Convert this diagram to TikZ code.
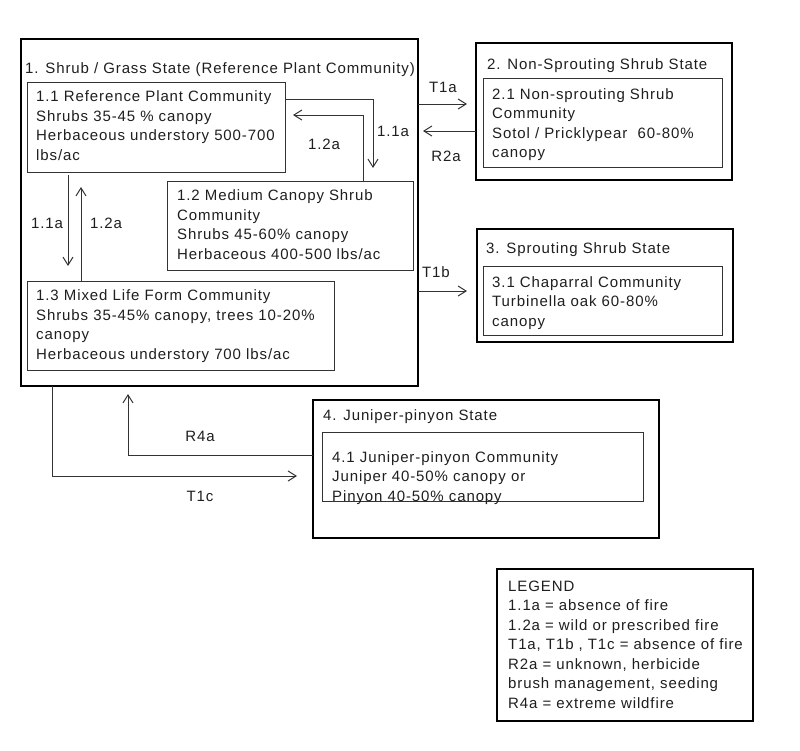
\documentclass[tikz,border=0pt]{standalone}
\usepackage{fontspec}
\setmainfont{Liberation Sans}[LetterSpace=6]
\usetikzlibrary{arrows.meta,calc}
\begin{document}
\begin{tikzpicture}[x=1pt,y=-1pt,
  statebox/.style={draw=black, line width=2pt, anchor=north west, inner sep=0pt, outer sep=0pt},
  commbox/.style={draw=black!80, line width=1pt, anchor=north west, inner sep=0pt, outer sep=0pt},
  txt/.style={anchor=north west, align=left, inner sep=0pt, font=\fontsize{15}{19.5}\selectfont, text=black!88},
  lbl/.style={anchor=base, inner sep=0pt, font=\fontsize{15}{19.5}\selectfont, text=black!88},
  conn/.style={draw=black!80, line width=1pt, -{Straight Barb[length=8pt,width=10pt]}}
]
\useasboundingbox[fill=white] (0,0) rectangle (800,750);

% state boxes
\node[statebox, minimum width=397pt, minimum height=347pt] (s1) at (21,39) {};
\node[commbox, minimum width=258pt, minimum height=90pt] (b11) at (27,82) {};
\node[commbox, minimum width=246pt, minimum height=89pt] (b12) at (167,181) {};
\node[commbox, minimum width=307pt, minimum height=89pt] (b13) at (27,281) {};

\node[statebox, minimum width=256pt, minimum height=137pt] (s2) at (476,43) {};
\node[commbox, minimum width=239pt, minimum height=89pt] (b21) at (483,78) {};

\node[statebox, minimum width=256pt, minimum height=113pt] (s3) at (477,229) {};
\node[commbox, minimum width=239pt, minimum height=69pt] (b31) at (483,266) {};

\node[statebox, minimum width=346pt, minimum height=138pt] (s4) at (313,400) {};
\node[commbox, minimum width=321pt, minimum height=69pt] (b41) at (322,432) {};

\node[statebox, minimum width=256pt, minimum height=152pt] (leg) at (497,569) {};

% texts
\node[txt] (t1) at (25,62.1) {1. Shrub / Grass State (Reference Plant Community)};
\node[txt] (t11) at (36,90.8) {1.1 Reference Plant Community\\Shrubs 35-45 \% canopy\\Herbaceous understory 500-700\\lbs/ac};
\node[txt] (t12) at (177,189.8) {1.2 Medium Canopy Shrub\\Community\\Shrubs 45-60\% canopy\\Herbaceous 400-500 lbs/ac};
\node[txt] (t13) at (36,289.8) {1.3 Mixed Life Form Community\\Shrubs 35-45\% canopy, trees 10-20\%\\canopy\\Herbaceous understory 700 lbs/ac};
\node[txt] (t2) at (487,58.1) {2. Non-Sprouting Shrub State};
\node[txt] (t21) at (492,88.1) {2.1 Non-sprouting Shrub\\Community\\Sotol / Pricklypear\ \ 60-80\%\\canopy};
\node[txt] (t3) at (486,242.1) {3. Sprouting Shrub State};
\node[txt] (t31) at (492,276.1) {3.1 Chaparral Community\\Turbinella oak 60-80\%\\canopy};
\node[txt] (t4) at (323,409.1) {4. Juniper-pinyon State};
\node[txt] (t41) at (332,451.1) {4.1 Juniper-pinyon Community\\Juniper 40-50\% canopy or\\Pinyon 40-50\% canopy};
\node[txt] (tleg) at (508,580.6) {LEGEND\\1.1a = absence of fire\\1.2a = wild or prescribed fire\\T1a, T1b\ , T1c = absence of fire\\R2a = unknown, herbicide\\brush management, seeding\\R4a = extreme wildfire};

% connector end points
\coordinate (c11a) at (373,168);
\coordinate (c12a) at (293,115);
\coordinate (cT1a) at (467,104);
\coordinate (cR2a) at (423,131);
\coordinate (cT1b) at (467,291);
\coordinate (cR4a) at (128,394);
\coordinate (cT1c) at (297,476);

% connectors
\draw[conn] ([yshift=-17pt]b11.north east) -| (c11a);
\draw[conn] ([xshift=196pt]b12.north west) |- (c12a);
\draw[conn] ([shift={(41pt,-3pt)}]b11.south west) -- ([shift={(41pt,15pt)}]b13.north west);
\draw[conn] ([xshift=54pt]b13.north west) -- ([shift={(54pt,-15pt)}]b11.south west);
\draw[conn] ([yshift=-65pt]s1.north east) -- (cT1a);
\draw[conn] ([yshift=-88pt]s2.north west) -- (cR2a);
\draw[conn] ([yshift=-252pt]s1.north east) -- (cT1b);
\draw[conn] ([yshift=-55pt]s4.north west) -| (cR4a);
\draw[conn] ([xshift=31pt]s1.south west) |- (cT1c);

% connector labels
\node[lbl] (l11a) at (393,136) {1.1a};
\node[lbl] (l12a) at (324,149) {1.2a};
\node[lbl] (l11b) at (47,228) {1.1a};
\node[lbl] (l12b) at (106,228) {1.2a};
\node[lbl] (lT1a) at (443,92) {T1a};
\node[lbl] (lR2a) at (446,161) {R2a};
\node[lbl] (lT1b) at (436,277) {T1b};
\node[lbl] (lR4a) at (200,441) {R4a};
\node[lbl] (lT1c) at (200,501) {T1c};
\end{tikzpicture}
\end{document}
